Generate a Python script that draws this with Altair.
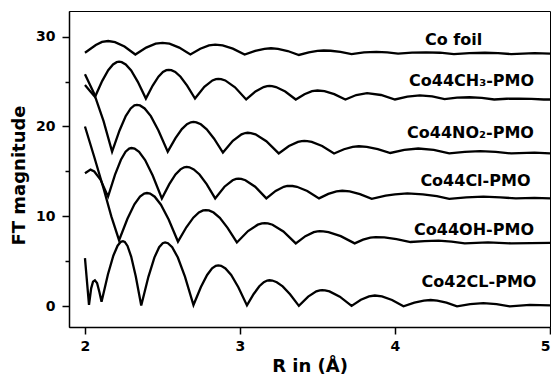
import altair as alt
import pandas as pd

# ---- data (R in Å, FT magnitude with vertical offsets) ----
co_foil = [(2.00, 28.2), (2.07, 29.05), (2.11, 29.4), (2.15, 29.5), (2.194, 29.38), (2.255, 28.885),
           (2.325, 28.0), (2.395, 28.77), (2.456, 29.2), (2.50, 29.3), (2.545, 29.2), (2.608, 28.77),
           (2.68, 28.0), (2.744, 28.65), (2.80, 29.01), (2.84, 29.1), (2.888, 29.01), (2.954, 28.65),
           (3.03, 28.0), (3.098, 28.41), (3.158, 28.64), (3.20, 28.7), (3.245, 28.64), (3.308, 28.39),
           (3.38, 27.95), (3.444, 28.25), (3.50, 28.41), (3.54, 28.45), (3.585, 28.42), (3.648, 28.29),
           (3.72, 28.05), (3.80, 28.23), (3.88, 28.3), (3.95, 28.24), (4.02, 28.1), (4.11, 28.21),
           (4.20, 28.25), (4.29, 28.2), (4.38, 28.05), (4.48, 28.16), (4.58, 28.2), (4.665, 28.15),
           (4.75, 28.05), (4.90, 28.15), (5.00, 28.1)]

co44ch3 = [(2.00, 24.6), (2.035, 23.9), (2.065, 23.3), (2.1115, 25.07), (2.150, 26.26), (2.181, 26.90),
           (2.2045, 27.15), (2.22, 27.2), (2.237, 27.15), (2.263, 26.89), (2.298, 26.22), (2.341, 24.96),
           (2.393, 23.1), (2.437, 24.55), (2.474, 25.53), (2.503, 26.06), (2.525, 26.26), (2.54, 26.3),
           (2.557, 26.26), (2.5825, 26.06), (2.6165, 25.53), (2.659, 24.55), (2.71, 23.1), (2.77, 24.40),
           (2.8225, 25.12), (2.845, 25.27), (2.86, 25.3), (2.878, 25.27), (2.905, 25.12), (2.968, 24.36),
           (3.04, 23.0), (3.10, 23.89), (3.1525, 24.38), (3.175, 24.48), (3.19, 24.5), (3.207, 24.48),
           (3.2325, 24.38), (3.292, 23.89), (3.36, 23.0), (3.416, 23.59), (3.465, 23.92), (3.50, 24.0),
           (3.545, 23.92), (3.608, 23.59), (3.68, 23.0), (3.75, 23.5), (3.82, 23.7), (3.91, 23.5),
           (4.0, 23.0), (4.08, 23.32), (4.16, 23.45), (4.24, 23.34), (4.32, 23.05), (4.40, 23.2),
           (4.48, 23.25), (4.56, 23.18), (4.64, 23.0), (4.72, 23.08), (4.8, 23.1), (4.88, 23.07),
           (4.96, 23.0), (5.0, 23.0)]

co44no2 = [(2.0, 25.8), (2.058, 23.7), (2.12, 20.6), (2.175, 17.2), (2.223, 19.56), (2.263, 21.15),
           (2.295, 22.0), (2.319, 22.34), (2.335, 22.4), (2.355, 22.34), (2.385, 22.0), (2.425, 21.15),
           (2.474, 19.56), (2.534, 17.2), (2.584, 18.70), (2.625, 19.71), (2.658, 20.25), (2.683, 20.46),
           (2.70, 20.5), (2.719, 20.46), (2.7475, 20.24), (2.7855, 19.68), (2.833, 18.64), (2.89, 17.1),
           (2.954, 18.40), (3.01, 19.12), (3.034, 19.27), (3.05, 19.3), (3.07, 19.27), (3.10, 19.12),
           (3.17, 18.36), (3.25, 17.0), (3.316, 17.83), (3.374, 18.29), (3.3985, 18.38), (3.415, 18.4),
           (3.434, 18.38), (3.463, 18.29), (3.53, 17.83), (3.607, 17.0), (3.671, 17.47), (3.727, 17.74),
           (3.767, 17.8), (3.818, 17.74), (3.889, 17.49), (3.97, 17.05), (4.06, 17.4), (4.15, 17.55),
           (4.25, 17.39), (4.35, 17.0), (4.45, 17.18), (4.55, 17.25), (4.65, 17.18), (4.75, 17.0),
           (4.9, 17.08), (5.0, 17.0)]

co44cl = [(2.0, 14.8), (2.036, 15.2), (2.06, 15.0), (2.1, 14.1), (2.149, 12.2), (2.194, 14.65),
          (2.232, 16.30), (2.262, 17.19), (2.285, 17.54), (2.30, 17.6), (2.32, 17.53), (2.349, 17.17),
          (2.388, 16.26), (2.437, 14.54), (2.496, 12.0), (2.544, 13.59), (2.584, 14.66), (2.616, 15.23),
          (2.64, 15.46), (2.656, 15.5), (2.674, 15.46), (2.702, 15.23), (2.739, 14.66), (2.785, 13.59),
          (2.84, 12.0), (2.90, 13.30), (2.9525, 14.02), (2.975, 14.17), (2.99, 14.2), (3.008, 14.17),
          (3.035, 14.02), (3.098, 13.30), (3.17, 12.0), (3.23, 12.83), (3.2825, 13.29), (3.305, 13.38),
          (3.32, 13.4), (3.339, 13.38), (3.3675, 13.29), (3.434, 12.83), (3.51, 12.0), (3.57, 12.50),
          (3.6225, 12.78), (3.66, 12.85), (3.7075, 12.78), (3.774, 12.48), (3.85, 11.95), (3.94, 12.3),
          (4.0, 12.45), (4.08, 12.55), (4.18, 12.45), (4.27, 12.25), (4.35, 11.95), (4.46, 12.12),
          (4.57, 12.2), (4.68, 12.12), (4.78, 12.0), (4.9, 12.05), (5.0, 12.0)]

co44oh = [(2.0, 20.0), (2.06, 16.6), (2.12, 13.1), (2.17, 10.0), (2.22, 7.35), (2.274, 9.73),
          (2.319, 11.34), (2.355, 12.20), (2.382, 12.54), (2.40, 12.6), (2.42, 12.54), (2.45, 12.19),
          (2.49, 11.30), (2.54, 9.65), (2.60, 7.2), (2.654, 8.79), (2.699, 9.86), (2.735, 10.43),
          (2.762, 10.66), (2.78, 10.7), (2.80, 10.66), (2.83, 10.43), (2.87, 9.84), (2.92, 8.73),
          (2.98, 7.1), (3.052, 8.37), (3.115, 9.08), (3.142, 9.22), (3.16, 9.25), (3.18, 9.22),
          (3.21, 9.07), (3.28, 8.33), (3.36, 7.0), (3.422, 7.80), (3.476, 8.24), (3.4995, 8.33),
          (3.515, 8.35), (3.5375, 8.33), (3.571, 8.24), (3.65, 7.80), (3.74, 7.0), (3.794, 7.41),
          (3.841, 7.64), (3.875, 7.7), (3.931, 7.66), (4.01, 7.47), (4.1, 7.15), (4.19, 7.26),
          (4.28, 7.3), (4.365, 7.2), (4.45, 7.0), (4.6, 7.1), (4.75, 7.0), (5.0, 7.05)]

co42cl = [(2.0, 5.35), (2.026, 0.15), (2.04, 2.0), (2.052, 2.75), (2.064, 2.9), (2.078, 2.6),
          (2.093, 1.6), (2.107, 0.5), (2.1484, 3.56), (2.183, 5.63), (2.2105, 6.74), (2.2312, 7.17),
          (2.245, 7.25), (2.2568, 7.16), (2.2745, 6.71), (2.2981, 5.53), (2.3276, 3.35), (2.363, 0.1),
          (2.4092, 3.28), (2.4477, 5.42), (2.4785, 6.57), (2.5016, 7.02), (2.517, 7.1), (2.5353, 7.02),
          (2.5628, 6.57), (2.5993, 5.43), (2.6451, 3.31), (2.70, 0.15), (2.748, 2.15), (2.788, 3.49),
          (2.82, 4.22), (2.844, 4.50), (2.86, 4.55), (2.8785, 4.50), (2.9063, 4.21), (2.9433, 3.48),
          (2.9895, 2.12), (3.045, 0.1), (3.0885, 1.37), (3.1248, 2.23), (3.1538, 2.69), (3.1755, 2.87),
          (3.19, 2.9), (3.209, 2.87), (3.2375, 2.68), (3.2755, 2.22), (3.323, 1.34), (3.38, 0.05),
          (3.44, 1.08), (3.4925, 1.66), (3.515, 1.78), (3.53, 1.8), (3.549, 1.78), (3.5775, 1.66),
          (3.644, 1.08), (3.72, 0.05), (3.78, 0.73), (3.8325, 1.11), (3.87, 1.2), (3.916, 1.10),
          (3.981, 0.71), (4.055, 0.0), (4.125, 0.41), (4.186, 0.64), (4.23, 0.7), (4.2725, 0.64),
          (4.332, 0.41), (4.40, 0.0), (4.485, 0.25), (4.57, 0.35), (4.655, 0.25), (4.74, 0.0),
          (4.87, 0.15), (5.0, 0.1)]

series_names = ["Co foil", "Co44CH3-PMO", "Co44NO2-PMO", "Co44Cl-PMO", "Co44OH-PMO", "Co42CL-PMO"]
series_points = [co_foil, co44ch3, co44no2, co44cl, co44oh, co42cl]

label_text = ["Co foil", "Co44CH\u2083-PMO", "Co44NO\u2082-PMO", "Co44Cl-PMO", "Co44OH-PMO", "Co42CL-PMO"]
label_r = [4.378, 4.494, 4.487, 4.519, 4.510, 4.542]
label_ft = [29.6, 25.05, 19.3, 13.95, 8.5, 2.65]

x_ticks = [2, 2.5, 3, 3.5, 4, 4.5, 5]
y_ticks = [0, 5, 10, 15, 20, 25, 30]

rows = []
for name, pts in zip(series_names, series_points):
    for i, (r, ft) in enumerate(pts):
        rows.append({"series": name, "R": r, "FT": ft, "i": i})
df = pd.DataFrame(rows)
lab_df = pd.DataFrame({"label": label_text, "R": label_r, "FT": label_ft})

FONT = "DejaVu Sans"

x_axis = alt.Axis(
    values=x_ticks, title="R in (Å)", grid=False, format="d",
    labelExpr="datum.value % 1 === 0 ? datum.label : ''",
    tickSize={"condition": {"test": "datum.value % 1 !== 0", "value": 4}, "value": 7},
    tickColor="black", tickWidth=1.5, domainColor="black", domainWidth=1.5,
    labelFont=FONT, labelFontWeight="bold", labelFontSize=14, labelColor="black",
    labelPadding=5, labelFlush=True, labelOverlap=False,
    titleFont=FONT, titleFontWeight="bold", titleFontSize=18, titleColor="black",
    titleY=44, titleBaseline="alphabetic",
)
y_axis = alt.Axis(
    values=y_ticks, title="FT magnitude", grid=False, format="d",
    labelExpr="datum.value % 10 === 0 ? datum.label : ''",
    tickSize={"condition": {"test": "datum.value % 10 !== 0", "value": 4}, "value": 7},
    tickColor="black", tickWidth=1.5, domainColor="black", domainWidth=1.5,
    labelFont=FONT, labelFontWeight="bold", labelFontSize=14, labelColor="black",
    labelPadding=7, labelFlush=False, labelOverlap=False,
    titleFont=FONT, titleFontWeight="bold", titleFontSize=18, titleColor="black",
    titleX=-50, titleY=164, titleAngle=270, titleAlign="center", titleBaseline="middle",
)

xs = alt.Scale(domain=[1.897, 5.0], nice=False, zero=False)
ys = alt.Scale(domain=[-2.3, 32.84], nice=False, zero=False)

lines = alt.Chart(df).mark_line(color="black", strokeWidth=2.3, clip=True).encode(
    x=alt.X("R:Q", scale=xs, axis=x_axis),
    y=alt.Y("FT:Q", scale=ys, axis=y_axis),
    detail="series:N",
    order="i:Q",
)

labels = alt.Chart(lab_df).mark_text(
    font=FONT, fontWeight="bold", fontSize=16, align="center", baseline="middle", color="black"
).encode(
    x=alt.X("R:Q", scale=xs),
    y=alt.Y("FT:Q", scale=ys),
    text="label:N",
)

chart = alt.layer(lines, labels).properties(
    width=481, height=316,
    autosize=alt.AutoSizeParams(type="none"),
    padding={"left": 61, "top": 3, "right": 1, "bottom": 48},
).configure_view(stroke="black", strokeWidth=1)

chart.save("out.html", embed_options={"renderer": "svg", "actions": False})
